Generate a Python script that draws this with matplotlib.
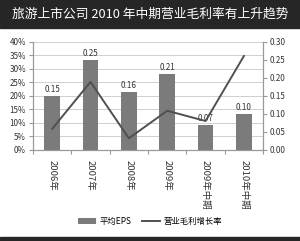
import matplotlib.pyplot as plt
from matplotlib.ticker import FuncFormatter

plt.rcParams['font.family'] = ['Noto Sans CJK SC', 'DejaVu Sans']

categories = ['2006年', '2007年', '2008年', '2009年', '2009年中期', '2010年中期']
eps = [0.15, 0.25, 0.16, 0.21, 0.07, 0.10]
growth = [7.8, 25.2, 4.3, 14.5, 10.7, 34.8]  # 营业毛利增长率, %

fig = plt.figure(figsize=(3.0, 2.41), dpi=100)
fig.patch.set_facecolor('white')

# title band
fig.patches.append(plt.Rectangle((0, 0.885), 1, 0.115, transform=fig.transFigure,
                                 color='#262626', zorder=0))
fig.text(0.5, 0.94, '旅游上市公司 2010 年中期营业毛利率有上升趋势', color='white',
         fontsize=9.2, ha='center', va='center')
# bottom band
fig.patches.append(plt.Rectangle((0, 0), 1, 0.018, transform=fig.transFigure,
                                 color='#262626', zorder=0))

ax = fig.add_axes([0.11, 0.378, 0.767, 0.448])
ax2 = ax.twinx()

x = list(range(len(categories)))
ax.set_ylim(0, 40)
ax.set_yticks(range(0, 41, 5))
ax.yaxis.set_major_formatter(FuncFormatter(lambda v, p: f'{int(v)}%'))
ax.grid(axis='y', color='#c8c8c8', linewidth=0.6)
ax.set_axisbelow(True)

ax2.set_ylim(0, 0.30)
ax2.set_yticks([0, 0.05, 0.10, 0.15, 0.20, 0.25, 0.30])
ax2.yaxis.set_major_formatter(FuncFormatter(lambda v, p: f'{v:.2f}'))

bars = ax2.bar(x, eps, width=0.41, color='#7b7b7b', zorder=2, label='平均EPS')
for xi, v in zip(x, eps):
    ax2.text(xi, v + 0.006, f'{v:.2f}', ha='center', va='bottom', fontsize=5.8, color='#333333')

line, = ax2.plot(x, [g * 0.30 / 40 for g in growth], color='#505050', linewidth=1.4,
                 zorder=3, label='营业毛利增长率')
ax.set_zorder(0)
ax2.set_zorder(1)
ax.patch.set_visible(False)

ax.set_xlim(-0.5, len(categories) - 0.5)
ax.set_xticks([i + 0.5 for i in range(-1, len(categories))], minor=False)
ax.set_xticklabels([])
ax.tick_params(axis='x', length=3, color='#999999')
ax.set_xticks(x, minor=True)
ax.set_xticklabels(categories, minor=True, rotation=-90, fontsize=6.8, va='top', ha='center',
                   color='#333333')
ax.tick_params(axis='x', which='minor', length=0, pad=7)

for a in (ax, ax2):
    a.spines['top'].set_visible(False)
    a.spines['left'].set_color('#999999')
    a.spines['right'].set_color('#999999')
    a.spines['bottom'].set_color('#999999')
    a.tick_params(axis='y', labelsize=5.8, length=3, color='#999999', labelcolor='#333333')
ax.tick_params(axis='y', pad=2)
ax2.tick_params(axis='y', pad=2)

fig.legend(handles=[bars, line], loc='center', bbox_to_anchor=(0.5, 0.08), ncol=2,
           frameon=False, fontsize=6, handlelength=2.2, columnspacing=1.2, handletextpad=0.4)

fig.savefig('out.png', dpi=100)
